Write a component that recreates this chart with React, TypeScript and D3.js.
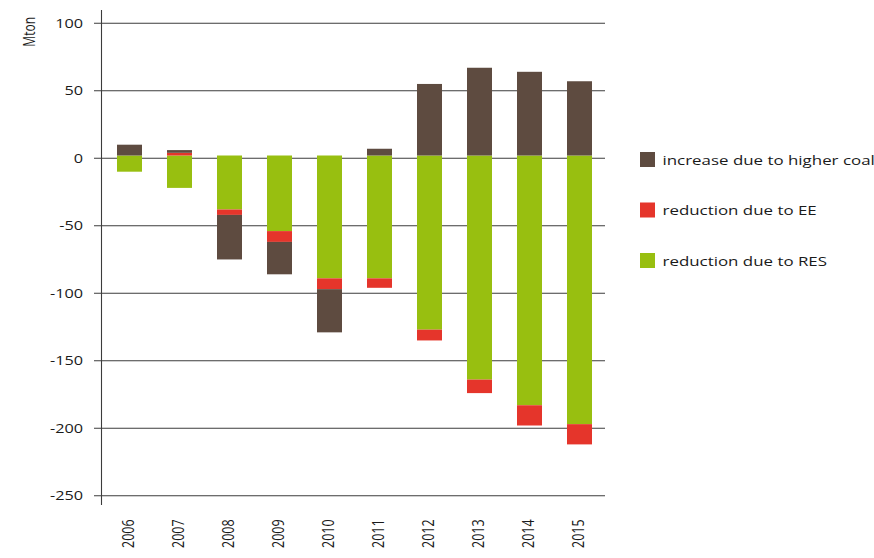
import React, { useEffect, useRef } from 'react';
import * as d3 from 'd3';

const years = ['2006', '2007', '2008', '2009', '2010', '2011', '2012', '2013', '2014', '2015'];
const coal = [8, 2, -33, -24, -32, 5, 53, 65, 62, 55];
const ee = [0, 2, -4, -8, -8, -7, -8, -10, -15, -15];
const res = [-12, -24, -40, -56, -91, -91, -129, -166, -185, -199];
const yTicks = [100, 50, 0, -50, -100, -150, -200, -250];
const legendLabels = ['increase due to higher coal', 'reduction due to EE', 'reduction due to RES'];

// bars in the original sit slightly above the zero line
const BASE = 2;
// the source image text is stretched sideways
const SX = 1.3;

const colors: Record<string, string> = {
  res: '#98bf10',
  ee: '#e5352b',
  coal: '#5e4b40',
};

const App = () => {
  const svgRef = useRef<SVGSVGElement>(null);

  useEffect(() => {
    const svg = d3.select(svgRef.current);
    svg.selectAll('*').remove();

    const font = "'Open Sans', sans-serif";

    const y = d3.scaleLinear().domain([-250, 100]).range([495.7, 23.2]);
    const x = d3.scaleBand().domain(years).range([104.5, 604.5]).paddingInner(0.5).paddingOuter(0.25);

    const rows = years.map((yr, i) => ({ year: yr, res: res[i], ee: ee[i], coal: coal[i] }));
    const series = d3.stack<any>()
      .keys(['res', 'ee', 'coal'])
      .offset(d3.stackOffsetDiverging)(rows);

    // gridlines
    svg.append('g')
      .selectAll('line')
      .data(yTicks)
      .join('line')
      .attr('x1', 94)
      .attr('x2', 605)
      .attr('y1', d => y(d))
      .attr('y2', d => y(d))
      .attr('stroke', '#3c3c3c')
      .attr('stroke-width', 1.1);

    // y axis line
    svg.append('line')
      .attr('x1', 101.5)
      .attr('x2', 101.5)
      .attr('y1', 10)
      .attr('y2', 505)
      .attr('stroke', '#3c3c3c')
      .attr('stroke-width', 1.1);

    // tick labels
    svg.append('g')
      .selectAll('text')
      .data(yTicks)
      .join('text')
      .attr('transform', d => `translate(83,${y(d)}) scale(${SX},1)`)
      .attr('dy', '0.36em')
      .attr('text-anchor', 'end')
      .attr('font-family', font)
      .attr('font-size', 12.5)
      .attr('fill', '#1a1a1a')
      .text(d => d);

    svg.append('text')
      .attr('transform', `translate(35,17) scale(${SX},1) rotate(-90)`)
      .attr('text-anchor', 'end')
      .attr('font-family', font)
      .attr('font-size', 12)
      .attr('fill', '#1a1a1a')
      .text('Mton');

    // bars
    svg.append('g')
      .selectAll('g')
      .data(series)
      .join('g')
      .attr('fill', d => colors[d.key])
      .selectAll('rect')
      .data(d => d)
      .join('rect')
      .attr('x', d => x(d.data.year)!)
      .attr('width', x.bandwidth())
      .attr('y', d => y(BASE + Math.max(d[0], d[1])))
      .attr('height', d => Math.abs(y(d[0]) - y(d[1])));

    // year labels
    svg.append('g')
      .selectAll('text')
      .data(years)
      .join('text')
      .attr('transform', d => `translate(${x(d)! + x.bandwidth() / 2 + 4},548) scale(${SX},1) rotate(-90)`)
      .attr('text-anchor', 'start')
      .attr('font-family', font)
      .attr('font-size', 12.5)
      .attr('fill', '#1a1a1a')
      .text(d => d);

    // legend
    const legendKeys = ['coal', 'ee', 'res'];
    const legend = svg.append('g')
      .selectAll('g')
      .data(legendKeys)
      .join('g')
      .attr('transform', (d, i) => `translate(640,${152 + i * 50.5})`);

    legend.append('rect')
      .attr('width', 15)
      .attr('height', 15)
      .attr('fill', d => colors[d]);

    legend.append('text')
      .attr('transform', `translate(22.5,8) scale(${SX},1)`)
      .attr('dy', '0.35em')
      .attr('font-family', font)
      .attr('font-size', 13)
      .attr('fill', '#1a1a1a')
      .text((d, i) => legendLabels[i]);
  }, []);

  return (
    <svg
      ref={svgRef}
      width={874}
      height={558}
      style={{ position: 'absolute', left: 0, top: 0, background: '#fff' }}
    ></svg>
  );
};

export default App;
